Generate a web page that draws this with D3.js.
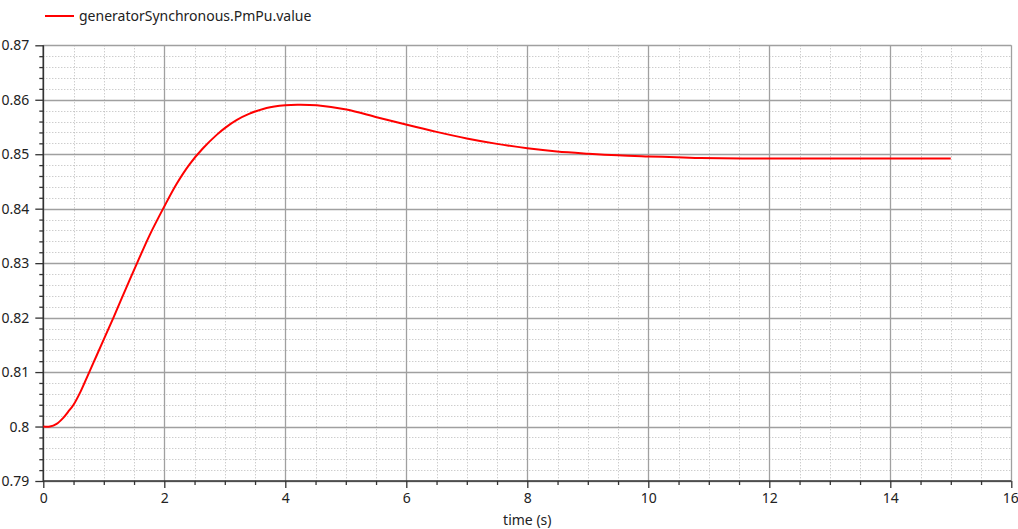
<!DOCTYPE html>
<html>
<head>
<meta charset="utf-8">
<script src="https://cdn.jsdelivr.net/npm/d3@7"></script>
<style>
  html, body { margin: 0; padding: 0; background: #fff; }
  svg { display: block; }
  text { font-family: "Noto Sans", "DejaVu Sans", sans-serif; fill: #222; }
</style>
</head>
<body>
<svg id="chart" width="1018" height="529"></svg>
<script>
// ---- data ----
const seriesName = "generatorSynchronous.PmPu.value";
const xLabel = "time (s)";
const time = [0, 0.11, 0.22, 0.33, 0.41, 0.5, 0.62, 0.74, 0.88, 1.02, 1.16, 1.36, 1.55, 1.76, 1.99, 2.2, 2.42, 2.64, 2.87, 3.0, 3.2, 3.4, 3.69, 4.0, 4.2, 4.52, 5.01, 5.51, 6.01, 6.5, 7.0, 7.5, 8.0, 8.49, 9.01, 9.5, 10.0, 10.58, 10.86, 12.0, 13.0, 14.0, 15.0];
const value = [0.8, 0.8, 0.8005, 0.8016, 0.8027, 0.8040, 0.8065, 0.8095, 0.8130, 0.8165, 0.8200, 0.8252, 0.8300, 0.8352, 0.8402, 0.8445, 0.8482, 0.8511, 0.8536, 0.8548, 0.8563, 0.8574, 0.8585, 0.8590, 0.8591, 0.8590, 0.8582, 0.8568, 0.8554, 0.8541, 0.8529, 0.8519, 0.8511, 0.8505, 0.8501, 0.8498, 0.8496, 0.8494, 0.8493, 0.8492, 0.8492, 0.8492, 0.8492];
const xMajorTicks = [0, 2, 4, 6, 8, 10, 12, 14, 16];
const yMajorTicks = [0.79, 0.8, 0.81, 0.82, 0.83, 0.84, 0.85, 0.86, 0.87];
const yTickLabels = ["0.79", "0.8", "0.81", "0.82", "0.83", "0.84", "0.85", "0.86", "0.87"];

// ---- layout ----
const svg = d3.select("#chart");
const L = 43.3, R = 1011.3, T = 45.3, B = 481;
const x = d3.scaleLinear().domain([0, 16]).range([L, R]);
const y = d3.scaleLinear().domain([0.79, 0.87]).range([B, T]);

const xMinor = d3.range(0, 16.001, 0.5).filter(v => Math.abs(v / 2 - Math.round(v / 2)) > 1e-6);
const yMinor = d3.range(0, 41).map(i => 0.79 + i * 0.002).filter((v, i) => i % 5 !== 0);

// minor grid
const g = svg.append("g");
g.selectAll(".vminor").data(xMinor).join("line")
  .attr("x1", d => Math.round(x(d)) + 0.5).attr("x2", d => Math.round(x(d)) + 0.5)
  .attr("y1", T).attr("y2", B)
  .attr("stroke", "#b8b8b8").attr("stroke-width", 1).attr("stroke-dasharray", "1,2");
g.selectAll(".hminor").data(yMinor).join("line")
  .attr("y1", d => Math.round(y(d)) + 0.5).attr("y2", d => Math.round(y(d)) + 0.5)
  .attr("x1", L).attr("x2", R)
  .attr("stroke", "#b8b8b8").attr("stroke-width", 1).attr("stroke-dasharray", "1,2");
// major grid
g.selectAll(".vmajor").data(xMajorTicks).join("line")
  .attr("x1", d => Math.round(x(d)) + 0.5).attr("x2", d => Math.round(x(d)) + 0.5)
  .attr("y1", T).attr("y2", B)
  .attr("stroke", "#a0a0a0").attr("stroke-width", 1.3);
g.selectAll(".hmajor").data(yMajorTicks).join("line")
  .attr("y1", d => Math.round(y(d)) + 0.5).attr("y2", d => Math.round(y(d)) + 0.5)
  .attr("x1", L).attr("x2", R)
  .attr("stroke", "#a0a0a0").attr("stroke-width", 1.3);

// axes
const xAxis = d3.axisBottom(x).tickValues(xMajorTicks).tickFormat(d3.format("d")).tickSize(7).tickPadding(5);
const xAxisMinor = d3.axisBottom(x).tickValues(xMinor).tickFormat("").tickSize(4);
const yAxis = d3.axisLeft(y).tickValues(yMajorTicks).tickFormat((d, i) => yTickLabels[i]).tickSize(8).tickPadding(6);
const yAxisMinor = d3.axisLeft(y).tickValues(yMinor).tickFormat("").tickSize(4);

function styleAxis(sel) {
  sel.select(".domain").remove();
  sel.selectAll("line").attr("stroke", "#333").attr("stroke-width", 1.3);
  sel.selectAll("text").attr("font-size", 14).attr("fill", "#222").style("font-family", '"Noto Sans", "DejaVu Sans", sans-serif');
}
svg.append("g").attr("transform", `translate(0,${B})`).call(xAxisMinor).call(styleAxis);
const xg = svg.append("g").attr("transform", `translate(0,${B})`).call(xAxis).call(styleAxis);
// keep the last label inside the canvas
xg.selectAll(".tick text").filter(d => d === 16).attr("text-anchor", "end").attr("dx", "7");
svg.append("g").attr("transform", `translate(${L},0)`).call(yAxisMinor).call(styleAxis);
svg.append("g").attr("transform", `translate(${L},0)`).call(yAxis).call(styleAxis);

// axis lines
svg.append("line").attr("x1", L).attr("x2", L).attr("y1", T).attr("y2", B + 0.5)
  .attr("stroke", "#333").attr("stroke-width", 1.6);
svg.append("line").attr("x1", L).attr("x2", R).attr("y1", B).attr("y2", B)
  .attr("stroke", "#333").attr("stroke-width", 1.6);

// series
const line = d3.line().x((d, i) => x(time[i])).y(d => y(d)).curve(d3.curveCatmullRom.alpha(0.5));
svg.append("path").datum(value).attr("d", line)
  .attr("fill", "none").attr("stroke", "#ff0000").attr("stroke-width", 2);

// x label
svg.append("text").attr("x", (L + R) / 2).attr("y", 525).attr("text-anchor", "middle")
  .attr("font-size", 14).text(xLabel);

// legend
svg.append("line").attr("x1", 45).attr("x2", 74).attr("y1", 16).attr("y2", 16)
  .attr("stroke", "#ff0000").attr("stroke-width", 2);
svg.append("text").attr("x", 79).attr("y", 21).attr("font-size", 14).text(seriesName);
</script>
</body>
</html>
